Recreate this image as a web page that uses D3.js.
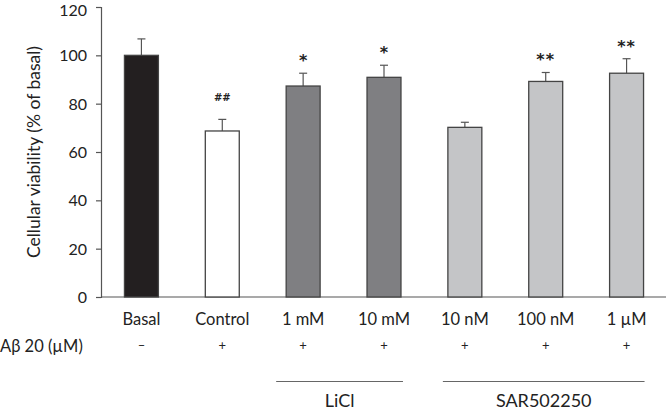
<!DOCTYPE html>
<html>
<head>
<meta charset="utf-8">
<script src="https://cdn.jsdelivr.net/npm/d3@7"></script>
<style>
  body { margin: 0; background: #fff; }
  svg text { font-family: Lato, "Open Sans", sans-serif; fill: #222; }
</style>
</head>
<body>
<div id="viz"></div>
<script>
// data
const categories = ['Basal', 'Control', '1 mM', '10 mM', '10 nM', '100 nM', '1 µM'];
const viability = [100, 68.7, 87.3, 90.9, 70.2, 89.2, 92.6];
const errUpper = [106.8, 73.5, 92.6, 95.9, 72.3, 92.9, 98.6];
const groups = ['basal', 'control', 'licl', 'licl', 'sar', 'sar', 'sar'];
const abeta = ['–', '+', '+', '+', '+', '+', '+'];
const marks = ['', '##', '*', '*', '', '**', '**'];
const yTicks = [0, 20, 40, 60, 80, 100, 120];

const width = 666, height = 410;
const fills = { basal: '#231f20', control: '#ffffff', licl: '#7f7f82', sar: '#c4c5c7' };

const svg = d3.select('#viz')
    .append('svg')
    .attr('width', width)
    .attr('height', height);

let yScale = d3.scaleLinear()
    .domain([0, 120])
    .range([297, 7]);

let xScale = d3.scaleBand()
    .domain(categories)
    .range([101, 667])
    .paddingInner(.58)
    .paddingOuter(.29);

// y axis
svg.append('g')
    .attr('transform', 'translate(101,0)')
    .call(d3.axisLeft(yScale).tickValues(yTicks).tickSize(5).tickPadding(9))
    .call(g => g.select('.domain').attr('stroke', '#555').attr('stroke-width', 1.2))
    .call(g => g.selectAll('.tick line').attr('stroke', '#555').attr('stroke-width', 1.2))
    .call(g => g.selectAll('.tick text').style('font-size', '16px').attr('fill', '#222')
        .attr('dy', d => d === 120 ? '0.5em' : '0.35em'));

// baseline
svg.append('line')
    .attr('x1', 101).attr('x2', 666)
    .attr('y1', yScale(0)).attr('y2', yScale(0))
    .attr('stroke', '#555').attr('stroke-width', 1.2);

svg.append('text')
    .attr('transform', 'translate(36,' + yScale(60) + ') rotate(-90)')
    .attr('text-anchor', 'middle')
    .attr('dominant-baseline', 'middle')
    .style('font-size', '17.5px')
    .text('Cellular viability (% of basal)');

// error bars (upper only)
let errs = svg.append('g').selectAll('g').data(categories).enter().append('g')
    .attr('stroke', '#555').attr('stroke-width', 1.2);
errs.append('line')
    .attr('x1', d => xScale(d) + xScale.bandwidth() / 2)
    .attr('x2', d => xScale(d) + xScale.bandwidth() / 2)
    .attr('y1', (d, i) => yScale(viability[i]))
    .attr('y2', (d, i) => yScale(errUpper[i]));
errs.append('line')
    .attr('x1', d => xScale(d) + xScale.bandwidth() / 2 - 4)
    .attr('x2', d => xScale(d) + xScale.bandwidth() / 2 + 4)
    .attr('y1', (d, i) => yScale(errUpper[i]))
    .attr('y2', (d, i) => yScale(errUpper[i]));

// bars
svg.append('g').selectAll('rect').data(categories).enter().append('rect')
    .attr('x', d => xScale(d))
    .attr('width', xScale.bandwidth())
    .attr('y', (d, i) => yScale(viability[i]))
    .attr('height', (d, i) => yScale(0) - yScale(viability[i]))
    .attr('fill', (d, i) => fills[groups[i]])
    .attr('stroke', '#444')
    .attr('stroke-width', 1.3);

// significance marks
svg.append('g').selectAll('text').data(categories).enter().append('text')
    .attr('x', d => xScale(d) + xScale.bandwidth() / 2)
    .attr('y', (d, i) => yScale(errUpper[i]) - (marks[i] === '##' ? 18 : 7))
    .attr('text-anchor', 'middle')
    .style('font-family', '"DejaVu Sans", sans-serif')
    .style('font-size', (d, i) => marks[i] === '##' ? '10px' : '16px')
    .style('font-weight', 'bold')
    .style('letter-spacing', (d, i) => marks[i] === '**' ? '1px' : '0px')
    .attr('fill', '#333')
    .text((d, i) => marks[i]);

// category labels
svg.append('g').selectAll('text').data(categories).enter().append('text')
    .attr('x', d => xScale(d) + xScale.bandwidth() / 2)
    .attr('y', 325)
    .attr('text-anchor', 'middle')
    .style('font-size', '16.5px')
    .text(d => d);

// Abeta row
svg.append('text')
    .attr('x', 0).attr('y', 352)
    .style('font-size', '16.5px')
    .text('Aβ 20 (µM)');
svg.append('g').selectAll('text').data(categories).enter().append('text')
    .attr('x', d => xScale(d) + xScale.bandwidth() / 2)
    .attr('y', 350)
    .attr('text-anchor', 'middle')
    .style('font-size', '13px')
    .attr('fill', '#666')
    .text((d, i) => abeta[i]);

// group brackets
const groupSpans = [
    { name: 'LiCl', first: '1 mM', last: '10 mM', x0: -10, x1: 2 },
    { name: 'SAR502250', first: '10 nM', last: '1 µM', x0: -5, x1: 1 }
];
groupSpans.forEach(gs => {
    let a = xScale(gs.first) + gs.x0, b = xScale(gs.last) + xScale.bandwidth() + gs.x1;
    svg.append('line')
        .attr('x1', a).attr('x2', b)
        .attr('y1', 381.5).attr('y2', 381.5)
        .attr('stroke', '#666').attr('stroke-width', 1);
    svg.append('text')
        .attr('x', (a + b) / 2).attr('y', 407)
        .attr('text-anchor', 'middle')
        .style('font-size', '18px')
        .text(gs.name);
});
</script>
</body>
</html>
